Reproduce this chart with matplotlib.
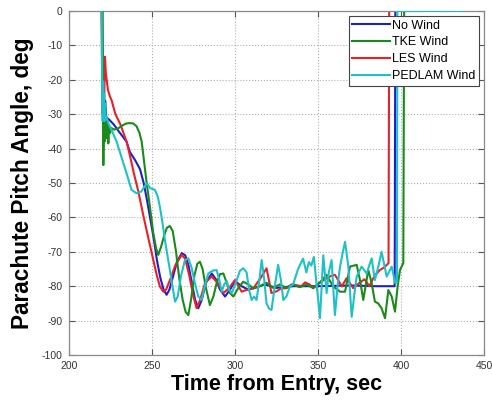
import matplotlib
matplotlib.use("Agg")
import matplotlib.pyplot as plt

plt.rcParams['font.family'] = ['Liberation Sans', 'DejaVu Sans']
plt.rcParams['axes.unicode_minus'] = False

# Parachute pitch angle histories (time in s, angle in deg)
t_nowind = [219.8, 220.3, 220.8, 221.3, 221.8, 222.5, 224, 227, 230, 234.7, 236.7, 240, 242.8,
            245, 247, 249, 251, 253, 255, 257, 258.8, 260.5, 262.5, 265, 267.9, 270, 272, 274,
            276, 277.9, 280, 282.5, 286, 288.5, 291, 294, 297, 300, 304, 308, 312, 318, 325,
            335, 350, 370, 385, 396.2, 396.6, 437]
a_nowind = [0, -28, -22, -30, -26, -31, -31.5, -33, -35, -38, -41, -43.5, -46,
            -50, -55, -60.5, -66, -72.5, -77.5, -81, -82.5, -81, -77.5, -73, -70.4, -71, -74, -79,
            -84, -86.4, -84, -79, -76.3, -78, -81, -83, -81, -78.5, -80, -81, -80.5, -79.5, -80.5,
            -80, -80, -79.8, -80, -80, 0, 0]

t_tke = [220.3, 220.7, 221.0, 221.4, 221.7, 222.1, 222.5, 222.9, 223.3, 223.7, 224.2, 224.7,
         225.5, 227, 229.7, 232.5, 234.5, 236.7, 238.7, 240.7, 242.5, 243.8, 245.3, 246.8,
         248.5, 250.8, 252.5, 253.8, 255.5, 257.5, 259, 260.8, 262.5, 264.5, 266.5, 268.5,
         270.3, 271.9, 273.5, 275.5, 277.3, 278.9, 280.5, 282.5, 284.9, 287, 289, 291, 293,
         295, 297, 299, 302, 305, 308, 311, 315, 319, 323, 327, 331, 335, 339, 343, 347, 351,
         355.2, 359, 363.3, 366.3, 369.3, 373.3, 375.3, 377.3, 380.3, 382.3, 384.3, 386.3,
         388.3, 390.4, 392.4, 394.4, 396.4, 398, 399.4, 401.4, 401.9, 437]
a_tke = [0, -44.8, -31, -38, -31.2, -36, -32, -37, -33, -38.5, -33.5, -35.5,
         -34, -34.5, -34.1, -33.2, -32.7, -32.6, -32.7, -33.5, -35.5, -38, -44, -50,
         -56, -64.6, -69, -70.9, -68.5, -65, -63, -62.5, -64, -70, -78, -84,
         -87.5, -88.4, -84, -77, -73.5, -72.9, -75, -80.5, -85.5, -83, -79, -76.5, -76.3,
         -79, -82, -83, -80.5, -78.7, -79.5, -80.6, -80, -79, -80.5, -79.5, -80.5, -79.5, -80.3, -79.5, -80.5, -79,
         -76.7, -80, -81.6, -81.6, -74.3, -73.8, -78.2, -84, -75.3, -79, -84.5, -85,
         -86.4, -89.3, -81.1, -83, -87.4, -80, -75.3, -73.3, 0, 0]

t_les = [219.6, 220.2, 220.7, 221.2, 221.7, 222.2, 222.7, 223.5, 224.7, 225.7, 226.7, 228,
         231, 234.7, 236.7, 239, 241.8, 244.8, 247.8, 250.8, 253, 254.8, 256.8, 258.5, 261,
         264, 267.9, 270, 272.5, 275, 276.9, 279, 282, 286, 289.5, 293, 296.5, 300, 304,
         307.5, 311, 315, 319, 322, 325, 328, 331, 334, 337, 340, 342.2, 345, 347.2, 351,
         355.2, 358, 360.2, 362.5, 364.3, 367.2, 371.3, 375, 378, 381, 384, 387.3, 390,
         392.5, 392.9, 437]
a_les = [0, -30, -22, -27, -13.3, -18, -20, -23, -24.9, -26, -27.8, -30,
         -33, -38, -42, -47, -52.5, -59.5, -66, -72.4, -77, -80.1, -81.6, -81, -78,
         -74, -70.9, -72, -77, -83, -86.4, -84, -79, -77.2, -79, -82, -80.5, -78.2, -81.6,
         -81, -80.6, -78, -74.8, -82, -81.5, -80.6, -80.6, -79.5, -79.7, -80, -78.9, -79.5, -80.6, -79,
         -77.7, -77, -76.7, -78.5, -80.1, -77.7, -80.6, -79, -78, -80, -77, -75.3, -74.5,
         -73.3, 0, 0]

t_pedlam = [219.7, 220.0, 220.3, 220.6, 220.9, 221.2, 221.5, 221.8, 222.2, 222.7, 224, 226,
            228.7, 231, 234.7, 237.7, 240.7, 243.5, 246.8, 249, 251.8, 253.5, 254.8, 256.3,
            257.8, 259.3, 260.8, 262.5, 263.9, 265.5, 267.5, 269.8, 271.9, 273.8, 275.9,
            277.9, 279.9, 281.8, 283.9, 286.5, 288.9, 290.5, 292, 293.5, 295, 296.5, 298,
            300.5, 303, 305, 307, 308.5, 310, 311.5, 313, 314.5, 316.1, 317.6, 319, 320.5,
            322, 324, 326, 327.6, 329.1, 331, 333.1, 335, 338, 341, 343, 344.5, 346, 347.5,
            349.3, 351.2, 353.2, 355.2, 356.5, 358.2, 360.2, 361.8, 363.3, 365, 366.3, 368.3,
            370.3, 372, 373.3, 376.3, 379.3, 382.3, 384.3, 386.5, 388.3, 391.4, 394.4, 396.5,
            397.6, 397.8, 437]
a_pedlam = [0, -25, -32, -20.5, -30, -24, -32, -27, -31, -31, -33, -35,
            -38, -41.5, -47.2, -52, -53, -52.5, -50.1, -51.5, -52, -54, -57, -61.5,
            -66.6, -71, -75.3, -80.5, -84.5, -83, -77, -72.5, -71.9, -74.5, -79.2,
            -83, -84, -80, -76.3, -75.5, -75.3, -78, -81.6, -79.5, -78.5, -81, -82,
            -79, -75.5, -74.8, -76, -81, -84, -83, -84, -79, -72.4, -78, -85, -86.5,
            -86.9, -80, -73.8, -78, -84, -83, -80.1, -79.5, -75, -72, -76, -73, -74, -71.5,
            -80, -89.3, -71, -82, -76, -72.4, -88.4, -80, -74.3, -70, -67.1, -74.3,
            -88.9, -82, -77.2, -74.3, -76.3, -71.9, -78.2, -74, -70, -77.2, -74.3, -79,
            -79, 0, 0]

labels = ['No Wind', 'TKE Wind', 'LES Wind', 'PEDLAM Wind']
colors = ['#1f1fc8', '#1a8a1a', '#e8202a', '#20c0c8']

xticks = [200, 250, 300, 350, 400, 450]
yticks = [0, -10, -20, -30, -40, -50, -60, -70, -80, -90, -100]

fig = plt.figure(figsize=(4.92, 4.01), dpi=100)
ax = fig.add_axes([0.1402, 0.1147, 0.8435, 0.858])

series = [(t_nowind, a_nowind), (t_tke, a_tke), (t_les, a_les), (t_pedlam, a_pedlam)]
zorders = [2, 3, 2.5, 3.5]
for (t, a), lab, col, z in zip(series, labels, colors, zorders):
    ax.plot(t, a, color=col, lw=1.5, label=lab, zorder=z)

ax.set_xlim(200, 450)
ax.set_ylim(-100, 0)
ax.set_xticks(xticks)
ax.set_yticks(yticks)
ax.tick_params(direction='in', top=True, right=True, length=4, width=0.8,
               color='#555555', labelsize=7.5, labelcolor='#333333', pad=4.5)
for s in ax.spines.values():
    s.set_color('#8a8a8a')
    s.set_linewidth(0.9)
ax.grid(True, linestyle=':', color='#b0b0b0', linewidth=0.8)
ax.set_axisbelow(True)

ax.set_xlabel('Time from Entry, sec', fontsize=15.5, fontweight='bold', labelpad=2)
ax.set_ylabel('Parachute Pitch Angle, deg', fontsize=16.3, fontweight='bold', labelpad=6)

leg = ax.legend(loc='upper right', fontsize=9, handlelength=3.0, handletextpad=0.15,
                labelspacing=0.38, borderpad=0.3, borderaxespad=0.4,
                fancybox=False, framealpha=1, edgecolor='#444444')
leg.get_frame().set_linewidth(0.8)

fig.savefig('out.png', dpi=100)
